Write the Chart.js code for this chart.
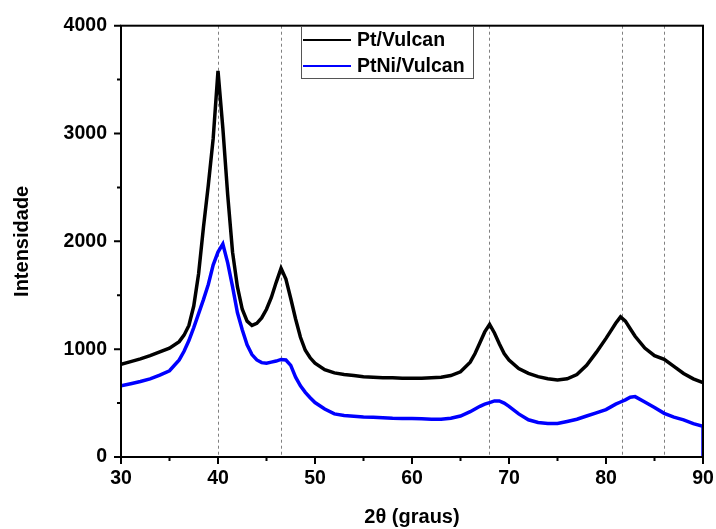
<!DOCTYPE html>
<html>
<head>
<meta charset="utf-8">
<script src="https://cdn.jsdelivr.net/npm/chart.js@4/dist/chart.umd.min.js"></script>
<style>
  html, body { margin: 0; padding: 0; background: #fff; }
  #wrap { width: 716px; height: 529px; }
</style>
</head>
<body>
<div id="wrap"><canvas id="xrd" width="716" height="529"></canvas></div>
<script>
const twoTheta = [
  30, 31, 32, 33, 34, 35, 36,
  36.5, 37, 37.5, 38, 38.5, 39, 39.5, 40, 40.5, 41, 41.5, 42, 42.5, 43, 43.5, 44,
  44.5, 45, 45.5, 46, 46.5, 47, 47.5, 48, 48.5, 49, 49.5, 50,
  51, 52, 53, 54, 55, 56, 57, 58, 59, 60, 61, 62, 63, 64, 65, 66,
  66.5, 67, 67.5, 68, 68.5, 69, 69.5, 70,
  71, 72, 73, 74, 75, 76, 77, 78, 79, 80,
  80.5, 81, 81.5, 82, 82.5, 83,
  84, 85, 86, 87, 88, 89, 90
];

const ptVulcan = [
  860, 885, 910, 940, 975, 1010, 1070,
  1130, 1220, 1400, 1700, 2130, 2520, 2950, 3580, 3050, 2430, 1900, 1580, 1370, 1260, 1220, 1240,
  1290, 1370, 1480, 1620, 1750, 1650, 1470, 1280, 1110, 990, 920, 870,
  810, 780, 765, 755, 745, 740, 735, 735, 730, 730, 730, 735, 740, 755, 790, 880,
  960, 1060, 1160, 1230, 1150, 1050, 960, 900,
  820, 775, 745, 725, 715, 725, 765, 850, 970, 1100,
  1170, 1240, 1300, 1260, 1190, 1120,
  1010, 940, 905, 840, 775, 725, 690
];

const ptNiVulcan = [
  660, 680, 700, 725, 760, 800, 900,
  980, 1080, 1200, 1330, 1460, 1600, 1780, 1900, 1975, 1800, 1580, 1340, 1180, 1040, 950, 900,
  875, 870, 880, 890, 905, 900, 850, 740, 660, 600, 550, 505,
  445, 400, 385, 378, 372, 368, 364, 360, 358, 356, 354, 350, 350, 360, 380, 420,
  445, 470, 490, 505, 520, 520, 500, 470,
  400, 345, 320, 310, 310, 330, 350, 380, 410, 440,
  465, 490, 510, 530, 555, 560,
  510, 460, 405, 370, 345, 310, 285
];
// the PtNi scan drops to zero on its last reading
const ptNiLast = { x: 90, y: 0 };

// dashed reference lines (2θ)
const refLines = [40, 46.5, 67.9, 81.7, 86];

const FONT = '"Liberation Sans", Arial, sans-serif';

const toPoints = (ys) => twoTheta.map((x, i) => ({ x, y: ys[i] }));

const decor = {
  id: 'decor',
  beforeDatasetsDraw(chart) {
    const { ctx, chartArea: a, scales: { x } } = chart;
    ctx.save();
    ctx.strokeStyle = '#808080';
    ctx.lineWidth = 1;
    ctx.setLineDash([3, 3]);
    refLines.forEach(v => {
      const px = Math.round(x.getPixelForValue(v)) + 0.5;
      ctx.beginPath();
      ctx.moveTo(px, a.top);
      ctx.lineTo(px, a.bottom);
      ctx.stroke();
    });
    ctx.restore();
  },
  afterDatasetsDraw(chart) {
    const { ctx, chartArea: a, scales: { x, y } } = chart;
    ctx.save();
    ctx.strokeStyle = '#000';
    ctx.lineWidth = 2;
    ctx.strokeRect(a.left, a.top, a.right - a.left, a.bottom - a.top);

    // ticks, outward, with minors
    ctx.beginPath();
    for (let v = 30; v <= 90; v += 5) {
      const px = x.getPixelForValue(v);
      const len = v % 10 === 0 ? 7 : 4;
      ctx.moveTo(px, a.bottom);
      ctx.lineTo(px, a.bottom + len);
    }
    for (let v = 0; v <= 4000; v += 500) {
      const py = y.getPixelForValue(v);
      const len = v % 1000 === 0 ? 7 : 4;
      ctx.moveTo(a.left, py);
      ctx.lineTo(a.left - len, py);
    }
    ctx.stroke();

    // legend box
    const bx = 301, by = 26, bw = 172, bh = 52;
    ctx.lineWidth = 1;
    ctx.strokeStyle = '#555';
    ctx.strokeRect(bx + 0.5, by + 0.5, bw, bh);
    ctx.font = 'bold 19.5px ' + FONT;
    ctx.textBaseline = 'middle';
    ctx.textAlign = 'left';
    chart.data.datasets.forEach((ds, i) => {
      const ly = by + 14 + i * 26;
      ctx.strokeStyle = ds.borderColor;
      ctx.lineWidth = 2;
      ctx.beginPath();
      ctx.moveTo(bx + 2, ly);
      ctx.lineTo(bx + 50, ly);
      ctx.stroke();
      ctx.fillStyle = '#000';
      ctx.fillText(ds.label, bx + 56, ly + 1);
    });
    ctx.restore();
  }
};

new Chart(document.getElementById('xrd'), {
  type: 'line',
  data: {
    datasets: [
      {
        label: 'Pt/Vulcan',
        data: toPoints(ptVulcan),
        borderColor: '#000000',
        borderWidth: 3.5,
        pointRadius: 0,
        tension: 0,
      },
      {
        label: 'PtNi/Vulcan',
        data: [...toPoints(ptNiVulcan), ptNiLast],
        borderColor: '#0000ff',
        borderWidth: 3.5,
        pointRadius: 0,
        tension: 0,
      },
    ],
  },
  options: {
    responsive: false,
    animation: false,
    layout: { padding: { top: 24, right: 13, left: 0, bottom: 0 } },
    plugins: {
      legend: { display: false },
      tooltip: { enabled: false },
    },
    scales: {
      x: {
        type: 'linear',
        min: 30,
        max: 90,
        grid: { display: false, drawTicks: false },
        border: { display: false },
        ticks: {
          stepSize: 10,
          padding: 10,
          color: '#000',
          callback: v => String(v),
          font: { family: FONT, size: 19.5, weight: 'bold' },
        },
        title: {
          display: true,
          text: '2θ (graus)',
          color: '#000',
          padding: { top: 0, bottom: 0 },
          font: { family: FONT, size: 20, weight: 'bold' },
        },
        afterFit: s => { s.height = 72; s.paddingRight = 0; s.paddingLeft = 0; },
      },
      y: {
        min: 0,
        max: 4000,
        grid: { display: false, drawTicks: false },
        border: { display: false },
        ticks: {
          stepSize: 1000,
          padding: 14,
          color: '#000',
          callback: v => String(v),
          font: { family: FONT, size: 19.5, weight: 'bold' },
        },
        title: {
          display: true,
          text: 'Intensidade',
          color: '#000',
          padding: { top: 10, bottom: 0 },
          font: { family: FONT, size: 20, weight: 'bold' },
        },
        afterFit: s => { s.width = 121; },
      },
    },
  },
  plugins: [decor],
});
</script>
</body>
</html>
